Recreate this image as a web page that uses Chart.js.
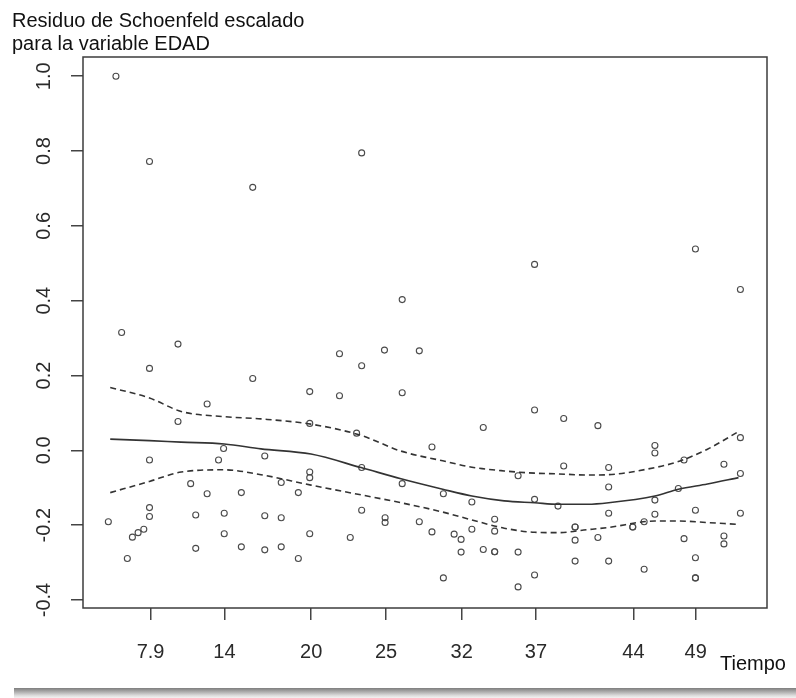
<!DOCTYPE html>
<html>
<head>
<meta charset="utf-8">
<title>Residuo de Schoenfeld escalado - EDAD</title>
<script src="https://cdn.jsdelivr.net/npm/chart.js@4.4.1/dist/chart.umd.min.js"></script>
<style>
  html, body { margin: 0; padding: 0; background: #fff; }
  #wrap { position: relative; width: 796px; height: 698px; overflow: hidden; }
  #shadow {
    position: absolute; left: 14px; right: 0; top: 688px; height: 10px;
    background: linear-gradient(to bottom, #7e7e7e 0%, #a9a9a9 35%, #dcdcdc 75%, #f3f3f3 100%);
  }
  canvas { position: absolute; left: 0; top: 0; }
</style>
</head>
<body>
<div id="wrap">
  <canvas id="zph" width="796" height="698"></canvas>
  <div id="shadow"></div>
</div>
<script>
// ── DATA ───────────────────────────────────────────
// x = tiempo transformado (escala KM, 0..1), y = residuo escalado
const titleLines = ['Residuo de Schoenfeld escalado', 'para la variable EDAD'];
const xLabel = 'Tiempo';

const xTickPos    = [0.0667, 0.1834, 0.3202, 0.4385, 0.5579, 0.6751, 0.8292, 0.9274];
const xTickLabels = ['7.9', '14', '20', '25', '32', '37', '44', '49'];
const yTicks      = [-0.4, -0.2, 0.0, 0.2, 0.4, 0.6, 0.8, 1.0];

const ptX = [
  0.000, 0.012, 0.021, 0.030, 0.038, 0.047, 0.056,
  0.065, 0.065, 0.065, 0.065, 0.065,
  0.110, 0.110, 0.130, 0.138, 0.138, 0.156, 0.156, 0.174, 0.182, 0.183, 0.183,
  0.210, 0.210, 0.228, 0.228, 0.247, 0.247, 0.247, 0.273, 0.273, 0.273, 0.300, 0.300,
  0.318, 0.318, 0.318, 0.318, 0.318,
  0.365, 0.365, 0.382, 0.392, 0.400, 0.400, 0.400, 0.400,
  0.436, 0.437, 0.437, 0.464, 0.464, 0.464, 0.491, 0.491, 0.511, 0.511,
  0.529, 0.529, 0.546, 0.557, 0.557, 0.574, 0.574, 0.592, 0.592,
  0.610, 0.610, 0.610, 0.610, 0.647, 0.647, 0.647,
  0.673, 0.673, 0.673, 0.673, 0.710, 0.719, 0.719,
  0.737, 0.737, 0.737, 0.737, 0.773, 0.773, 0.790, 0.790, 0.790, 0.790,
  0.828, 0.828, 0.846, 0.846, 0.863, 0.863, 0.863, 0.863,
  0.900, 0.909, 0.909, 0.927, 0.927, 0.927, 0.927, 0.927,
  0.972, 0.972, 0.972, 0.998, 0.998, 0.998, 0.998
];
const ptY = [
  -0.191, 1.000, 0.315, -0.289, -0.232, -0.220, -0.211,
  0.772, 0.219, -0.026, -0.153, -0.177,
  0.284, 0.077, -0.089, -0.173, -0.262, 0.124, -0.116, -0.026, 0.005, -0.168, -0.223,
  -0.113, -0.258, 0.703, 0.192, -0.015, -0.175, -0.266, -0.086, -0.180, -0.258, -0.113, -0.289,
  0.157, 0.072, -0.058, -0.073, -0.223,
  0.258, 0.146, -0.233, 0.046, 0.795, 0.226, -0.046, -0.160,
  0.268, -0.180, -0.193, 0.403, 0.154, -0.089, 0.266, -0.191, 0.009, -0.218,
  -0.116, -0.341, -0.224, -0.238, -0.272, -0.138, -0.211, 0.061, -0.265,
  -0.184, -0.216, -0.271, -0.271, -0.068, -0.272, -0.365,
  0.497, 0.108, -0.131, -0.333, -0.149, 0.085, -0.042,
  -0.205, -0.205, -0.240, -0.296, 0.066, -0.233, -0.046, -0.098, -0.168, -0.296,
  -0.205, -0.205, -0.191, -0.318, 0.013, -0.007, -0.133, -0.171,
  -0.102, -0.026, -0.236, 0.538, -0.160, -0.287, -0.341, -0.341,
  -0.037, -0.229, -0.250, 0.430, 0.034, -0.062, -0.168
];

// curva suavizada y bandas de confianza
const smX     = [0.003, 0.065, 0.115, 0.183, 0.241, 0.320, 0.399, 0.462, 0.528, 0.574, 0.625, 0.673, 0.710, 0.757, 0.790, 0.863, 0.900, 0.946, 0.995];
const smFit   = [0.030, 0.026, 0.022, 0.017, 0.004, -0.010, -0.046, -0.076, -0.104, -0.122, -0.135, -0.140, -0.144, -0.144, -0.140, -0.122, -0.104, -0.090, -0.073];
const smUpper = [0.168, 0.140, 0.104, 0.090, 0.084, 0.070, 0.040, -0.002, -0.028, -0.045, -0.055, -0.061, -0.063, -0.066, -0.065, -0.046, -0.030, 0.003, 0.050];
const smLower = [-0.113, -0.083, -0.058, -0.052, -0.065, -0.093, -0.119, -0.140, -0.165, -0.186, -0.208, -0.219, -0.220, -0.212, -0.206, -0.189, -0.189, -0.193, -0.198];

// ── HELPERS ────────────────────────────────────────
const FONT = '"Liberation Sans", Arial, Helvetica, sans-serif';
const toXY = (xs, ys) => xs.map((x, i) => ({ x: x, y: ys[i] }));

// marco, título y etiqueta del eje x
const decor = {
  id: 'decor',
  afterDraw(chart) {
    const { ctx, chartArea: a } = chart;
    ctx.save();
    ctx.strokeStyle = '#3c3c3c';
    ctx.lineWidth = 1.5;
    ctx.strokeRect(a.left, a.top, a.right - a.left, a.bottom - a.top);
    ctx.fillStyle = '#111';
    ctx.font = '20px ' + FONT;
    ctx.textBaseline = 'alphabetic';
    ctx.textAlign = 'left';
    ctx.fillText(titleLines[0], 12, 27);
    ctx.fillText(titleLines[1], 12, 50);
    ctx.fillText(xLabel, 720, 670);
    ctx.restore();
  }
};

const lineStyle = (data, dash) => ({
  type: 'line',
  data: data,
  borderColor: '#333',
  borderWidth: 1.6,
  borderDash: dash,
  pointRadius: 0,
  fill: false,
  cubicInterpolationMode: 'monotone',
  order: 1
});

// ── CHART ──────────────────────────────────────────
new Chart(document.getElementById('zph').getContext('2d'), {
  type: 'scatter',
  data: {
    datasets: [
      {
        type: 'scatter',
        data: toXY(ptX, ptY),
        pointStyle: 'circle',
        pointRadius: 3,
        pointBorderWidth: 1.1,
        pointBorderColor: '#4a4a4a',
        pointBackgroundColor: 'rgba(255,255,255,0)',
        order: 2
      },
      lineStyle(toXY(smX, smFit), []),
      lineStyle(toXY(smX, smUpper), [6, 4]),
      lineStyle(toXY(smX, smLower), [6, 4])
    ]
  },
  options: {
    responsive: false,
    animation: false,
    layout: { padding: { left: 0, top: 57, right: 29, bottom: 0 } },
    plugins: { legend: { display: false }, tooltip: { enabled: false } },
    scales: {
      x: {
        type: 'linear',
        min: -0.04,
        max: 1.04,
        afterBuildTicks: s => { s.ticks = xTickPos.map(v => ({ value: v })); },
        afterFit: s => { s.height = 90; },
        ticks: {
          autoSkip: false,
          maxRotation: 0,
          padding: 20,
          color: '#2a2a2a',
          font: { family: FONT, size: 20 },
          callback: (v, i) => xTickLabels[i]
        },
        grid: { drawOnChartArea: false, tickLength: 12, color: '#444', lineWidth: 1.5 },
        border: { display: false }
      },
      y: {
        type: 'linear',
        min: -0.4214,
        max: 1.0514,
        afterBuildTicks: s => { s.ticks = yTicks.map(v => ({ value: v })); },
        afterFit: s => { s.width = 83; },
        ticks: {
          autoSkip: false,
          minRotation: 90,
          maxRotation: 90,
          crossAlign: 'center',
          padding: 9,
          color: '#2a2a2a',
          font: { family: FONT, size: 20 },
          callback: v => v.toFixed(1)
        },
        grid: { drawOnChartArea: false, tickLength: 12, color: '#444', lineWidth: 1.5 },
        border: { display: false }
      }
    }
  },
  plugins: [decor]
});
</script>
</body>
</html>
